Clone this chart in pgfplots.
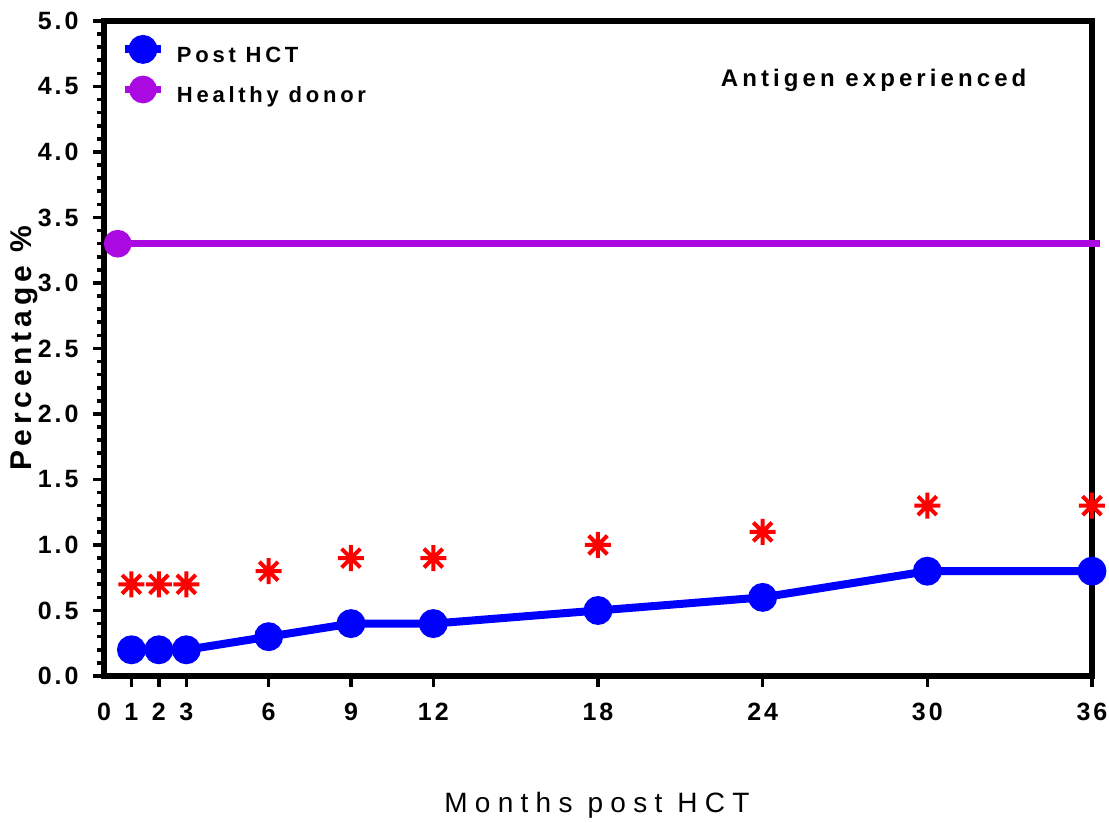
\documentclass[border=0pt]{standalone}
\usepackage{fontspec}
\setmainfont{Liberation Sans}
\newfontfamily\tickfont[LetterSpace=12]{Liberation Sans}
\newfontfamily\legfont[LetterSpace=17]{Liberation Sans}
\newfontfamily\xlabfont[LetterSpace=26]{Liberation Sans}
\newfontfamily\ylabfont[LetterSpace=16]{Liberation Sans}
\usepackage{pgfplots}
\pgfplotsset{compat=1.18}
\definecolor{hdpurple}{RGB}{170,10,225}
\pgfdeclareplotmark{ast8}{%
  \pgfpathmoveto{\pgfpoint{-\pgfplotmarksize}{0pt}}\pgfpathlineto{\pgfpoint{\pgfplotmarksize}{0pt}}%
  \pgfpathmoveto{\pgfpoint{0pt}{-\pgfplotmarksize}}\pgfpathlineto{\pgfpoint{0pt}{\pgfplotmarksize}}%
  \pgfpathmoveto{\pgfpoint{-0.72\pgfplotmarksize}{-0.72\pgfplotmarksize}}\pgfpathlineto{\pgfpoint{0.72\pgfplotmarksize}{0.72\pgfplotmarksize}}%
  \pgfpathmoveto{\pgfpoint{-0.72\pgfplotmarksize}{0.72\pgfplotmarksize}}\pgfpathlineto{\pgfpoint{0.72\pgfplotmarksize}{-0.72\pgfplotmarksize}}%
  \pgfusepathqstroke}
\pgfplotstableread{
month value
1 0.2
2 0.2
3 0.2
6 0.3
9 0.4
12 0.4
18 0.5
24 0.6
30 0.8
36 0.8
}\posthct
\pgfplotstableread{
month value
0.5 3.3
36.3 3.3
}\healthy
\pgfplotstableread{
month value
1 0.7
2 0.7
3 0.7
6 0.8
9 0.9
12 0.9
18 1.0
24 1.1
30 1.3
36 1.3
}\signif
\begin{document}
\begin{tikzpicture}
\useasboundingbox (-52pt,-73.5pt) rectangle (502.5pt,338pt);
\begin{axis}[
  at={(0pt,0pt)}, anchor=south west,
  scale only axis, width=494pt, height=327.5pt,
  xmin=0, xmax=36, ymin=0, ymax=5,
  clip=false,
  axis line style={line width=2.6pt},
  xtick={1,2,3,6,9,12,18,24,30,36},
  extra x ticks={0},
  extra x tick style={major tick length=0pt, xticklabel style={yshift=-5.5pt}},
  ytick={0,0.5,1,1.5,2,2.5,3,3.5,4,4.5,5},
  minor y tick num=4,
  tick align=outside, tick pos=left,
  major tick length=5.5pt, minor tick length=3.5pt,
  every tick/.style={black, line width=1.8pt},
  /pgf/number format/assume math mode=true,
  tick label style={font=\tickfont\bfseries\fontsize{12.5}{14}\selectfont},
  yticklabel style={/pgf/number format/.cd, fixed, fixed zerofill, precision=1, /tikz/.cd, anchor=east, inner sep=0pt, xshift=-7pt},
  xticklabel style={anchor=base, inner sep=0pt, yshift=-17pt},
  xlabel={Months post HCT},
  xlabel style={font=\xlabfont\fontsize{14}{16}\selectfont, at={(axis description cs:0.499,-0.197)}, anchor=center},
  ylabel={Percentage \%},
  ylabel style={font=\ylabfont\bfseries\fontsize{15}{17}\selectfont, at={(axis description cs:-0.081,0.5)}, anchor=center},
  legend cell align=left,
  legend image code/.code={\draw[#1, mark repeat=2, mark phase=2] plot coordinates {(0pt,3.8pt) (9pt,3.8pt) (18pt,3.8pt)};},
  legend style={at={(axis description cs:0.0172,0.9725)}, anchor=north west, draw=none, fill=none,
    inner sep=0pt, outer sep=0pt, row sep=6pt, column sep=6pt,
    nodes={inner sep=0pt, text height=8pt, text depth=2.5pt},
    font=\legfont\bfseries\fontsize{11}{13}\selectfont},
]
\addplot[blue, line width=4pt, mark=*, mark size=5.2pt, mark options={solid}] table[x=month, y=value] {\posthct};
\addlegendentry{Post HCT}
\addplot[hdpurple, line width=3.8pt, mark=*, mark size=5pt, mark repeat=2, mark phase=1] table[x=month, y=value] {\healthy};
\addlegendentry{Healthy donor}
\addplot[red, only marks, mark=ast8, mark size=6.5pt, line width=2pt, forget plot] table[x=month, y=value] {\signif};
\node[font=\legfont\bfseries\fontsize{12}{14}\selectfont, anchor=center] at (axis description cs:0.779,0.91) {Antigen experienced};
\end{axis}
\end{tikzpicture}
\end{document}
